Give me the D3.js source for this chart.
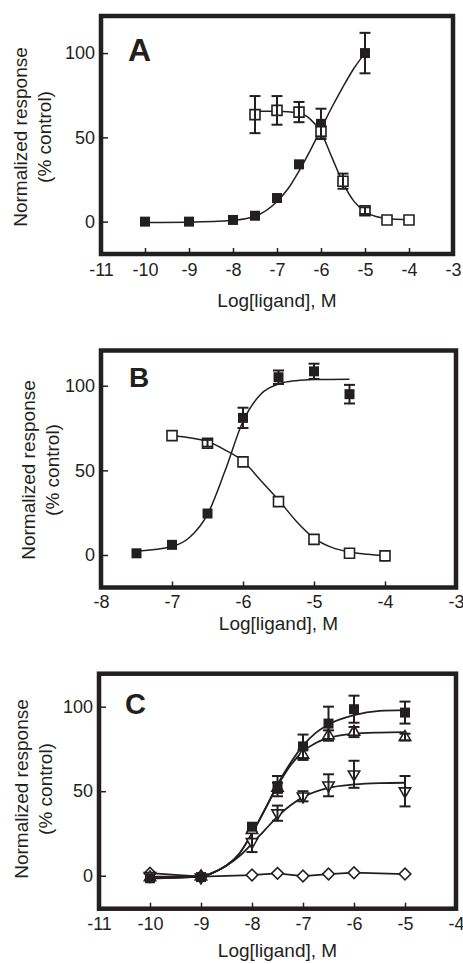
<!DOCTYPE html>
<html>
<head>
<meta charset="utf-8">
<script src="https://cdn.jsdelivr.net/npm/d3@7"></script>
<style>
body { margin: 0; background: #fff; }
text { font-family: "Liberation Sans", Arial, sans-serif; fill: #231f20; }
</style>
</head>
<body>
<div id="chart"></div>
<script>
var w = 463, h = 964;
var INK = "#231f20";

// panel A
var aLog = [-10, -9, -8, -7.5, -7, -6.5, -6, -5];
var aFilled = [0, 0, 1, 3.5, 14, 34, 58, 100];
var aFilledErr = [0, 0, 0, 0, 0, 0, 9, 12];
var aOpenLog = [-7.5, -7, -6.5, -6, -5.5, -5, -4.5, -4];
var aOpen = [63.5, 66, 65, 53.5, 24, 6.5, 1, 1];
var aOpenErr = [11, 8.5, 6, 3, 4.5, 2, 0, 0];
var aFitFilledX = [-10, -9, -8, -7.5, -7, -6.75, -6.5, -6.25, -6, -5.75, -5.5, -5.25, -5];
var aFitFilledY = [-0.5, -0.3, 0.8, 3.2, 12, 19.5, 30, 42, 55, 68, 80, 91, 100];
var aFitOpenX = [-7.5, -7, -6.5, -6.25, -6, -5.75, -5.5, -5.25, -5, -4.75, -4.5, -4];
var aFitOpenY = [65.5, 65.5, 64.5, 61, 53, 38, 23, 12, 6, 3, 1.8, 1];
var aTicks = [-11, -10, -9, -8, -7, -6, -5, -4, -3];

// panel B
var bLog = [-7.5, -7, -6.5, -6, -5.5, -5, -4.5];
var bFilled = [1, 6, 24.5, 81, 105, 108.5, 95];
var bFilledErr = [0, 0, 0, 6, 4, 4.5, 5.5];
var bOpenLog = [-7, -6.5, -6, -5.5, -5, -4.5, -4];
var bOpen = [70.5, 66, 55, 31.5, 9.2, 1, -0.5];
var bOpenErr = [0, 2, 0, 0, 0, 0, 0];
var bFitFilledX = [-7.5, -7, -6.75, -6.5, -6.25, -6, -5.75, -5.5, -5.25, -5, -4.5];
var bFitFilledY = [2.2, 5, 10.5, 24, 50, 79, 95, 101, 103, 103.6, 103.8];
var bFitOpenX = [-7, -6.5, -6.25, -6, -5.75, -5.5, -5.25, -5, -4.75, -4.5, -4.25, -4];
var bFitOpenY = [70.5, 67, 62, 55.5, 44, 32.5, 20, 10, 4.5, 1.8, 0.5, -0.3];
var bTicks = [-8, -7, -6, -5, -4, -3];

// panel C
var cLog = [-10, -9, -8, -7.5, -7, -6.5, -6, -5];
var cFilled = [-1.5, -0.8, 29, 53, 76.5, 90, 98.5, 96.5];
var cFilledErr = [0, 0, 0, 6, 7, 10, 8, 6.5];
var cUp = [-1, -0.5, 27, 52, 71.5, 83, 85, 82];
var cUpErr = [0, 0, 0, 3, 3, 3, 3, 2];
var cDown = [0, -1, 20, 37, 47, 53.5, 60, 50];
var cDownErr = [0, 0, 6, 4.5, 3, 6.5, 8, 9];
var cDiamond = [1.5, -0.5, 0.4, 1.4, -0.2, 1, 1.8, 1];
var cFitFilledX = [-10, -9, -8.75, -8.5, -8.25, -8, -7.75, -7.5, -7.25, -7, -6.75, -6.5, -6, -5.5, -5];
var cFitFilledY = [-1.5, -0.5, 2, 6, 13, 25, 39, 54, 66.5, 77, 84.5, 89.5, 95, 97.5, 98];
var cFitUpX = [-10, -9, -8.75, -8.5, -8.25, -8, -7.75, -7.5, -7.25, -7, -6.75, -6.5, -6, -5.5, -5];
var cFitUpY = [-1.5, -0.5, 2, 6, 13, 25, 39, 53, 65, 73.5, 78.5, 81.5, 84, 84.7, 85];
var cFitDownX = [-10, -9, -8.5, -8.25, -8, -7.75, -7.5, -7.25, -7, -6.5, -6, -5.5, -5];
var cFitDownY = [-0.5, -0.2, 6, 11.5, 19, 27, 35, 41.5, 46.5, 52, 54, 54.8, 55];
var cTicks = [-11, -10, -9, -8, -7, -6, -5, -4];

var yTicks = [0, 50, 100];

function zip(xs, ys, es) {
  return xs.map(function(x, i) { return {x: x, y: ys[i], e: es ? es[i] : 0}; });
}

var panels = [
  { letter: "A", letterX: 128, letterY: 61, letterSize: 32,
    left: 101, right: 453, top: 16, bottom: 254,
    xDomain: [-11, -3], yDomain: [-19.2, 122], ticks: aTicks, xPad: 9,
    titleX: 27, titleY: 137, xTitleY: 307,
    fits: [zip(aFitFilledX, aFitFilledY), zip(aFitOpenX, aFitOpenY)],
    series: [
      {pts: zip(aLog, aFilled, aFilledErr), shape: "square", filled: true},
      {pts: zip(aOpenLog, aOpen, aOpenErr), shape: "square", filled: false}
    ] },
  { letter: "B", letterX: 129, letterY: 387, letterSize: 28,
    left: 101, right: 456, top: 350.5, bottom: 587.5,
    xDomain: [-8, -3], yDomain: [-19.2, 120.8], ticks: bTicks, xPad: 7.7,
    titleX: 35, titleY: 470, xTitleY: 630,
    fits: [zip(bFitFilledX, bFitFilledY), zip(bFitOpenX, bFitOpenY)],
    series: [
      {pts: zip(bLog, bFilled, bFilledErr), shape: "square", filled: true},
      {pts: zip(bOpenLog, bOpen, bOpenErr), shape: "square", filled: false}
    ] },
  { letter: "C", letterX: 125, letterY: 714, letterSize: 29,
    left: 99, right: 456, top: 673.7, bottom: 908.7,
    xDomain: [-11, -4], yDomain: [-19.5, 119.5], ticks: cTicks, xPad: 8.5,
    titleX: 28, titleY: 789, xTitleY: 957,
    fits: [zip(cFitFilledX, cFitFilledY), zip(cFitUpX, cFitUpY), zip(cFitDownX, cFitDownY), zip(cLog, cDiamond)],
    series: [
      {pts: zip(cLog, cDiamond), shape: "diamond", filled: false},
      {pts: zip(cLog, cDown, cDownErr), shape: "down", filled: false},
      {pts: zip(cLog, cUp, cUpErr), shape: "up", filled: false},
      {pts: zip(cLog, cFilled, cFilledErr), shape: "square", filled: true}
    ] }
];

var svg = d3.select("#chart").append("svg")
  .attr("width", w).attr("height", h);

function symbolPath(shape) {
  if (shape == "square") return d3.symbol(d3.symbolSquare, 100)();
  if (shape == "diamond") return d3.symbol(d3.symbolSquare, 68)();
  return d3.symbol(d3.symbolTriangle, 56)();
}
function symbolRot(shape) {
  if (shape == "diamond") return 45;
  if (shape == "down") return 180;
  return 0;
}

panels.forEach(function(p) {
  var x = d3.scaleLinear().domain(p.xDomain).range([p.left, p.right]);
  var y = d3.scaleLinear().domain(p.yDomain).range([p.bottom, p.top]);
  var g = svg.append("g");

  // axes (ticks point inward)
  var xa = g.append("g").attr("transform", "translate(0," + p.bottom + ")")
    .call(d3.axisBottom(x).tickValues(p.ticks).tickSize(-6).tickPadding(p.xPad)
      .tickFormat(d3.format("d")));
  var ya = g.append("g").attr("transform", "translate(" + p.left + ",0)")
    .call(d3.axisLeft(y).tickValues(yTicks).tickSize(-7).tickPadding(6));
  [xa, ya].forEach(function(a) {
    a.select(".domain").remove();
    a.selectAll(".tick line").attr("stroke", INK).attr("stroke-width", 1.5);
    a.selectAll(".tick text").style("font-size", "18px").attr("fill", INK)
      .text(function(d) { return String(d).replace("\u2212", "-"); });
  });

  // fitted curves
  var line = d3.line().x(function(d) { return x(d.x); }).y(function(d) { return y(d.y); });
  p.fits.forEach(function(f, i) {
    var isDiamondLine = (p.letter == "C" && i == 3);
    g.append("path").datum(f)
      .attr("d", line.curve(isDiamondLine ? d3.curveLinear : d3.curveMonotoneX))
      .attr("fill", "none").attr("stroke", INK)
      .attr("stroke-width", p.letter == "C" ? 1.8 : 1.5);
  });

  // markers and error bars
  p.series.forEach(function(s) {
    var sg = g.append("g");
    sg.selectAll("path.mk").data(s.pts).enter().append("path")
      .attr("class", "mk")
      .attr("d", symbolPath(s.shape))
      .attr("transform", function(d) {
        return "translate(" + x(d.x) + "," + y(d.y) + ") rotate(" + symbolRot(s.shape) + ")";
      })
      .attr("fill", s.filled ? INK : "#fff")
      .attr("stroke", INK)
      .attr("stroke-width", s.filled ? 0 : 1.6);
    var eb = sg.selectAll("g.eb").data(s.pts.filter(function(d) { return d.e > 0; }))
      .enter().append("g").attr("class", "eb")
      .attr("stroke", INK).attr("stroke-width", 2);
    eb.append("line")
      .attr("x1", function(d) { return x(d.x); }).attr("x2", function(d) { return x(d.x); })
      .attr("y1", function(d) { return y(d.y + d.e); }).attr("y2", function(d) { return y(d.y - d.e); });
    [1, -1].forEach(function(sgn) {
      eb.append("line")
        .attr("x1", function(d) { return x(d.x) - 5.5; }).attr("x2", function(d) { return x(d.x) + 5.5; })
        .attr("y1", function(d) { return y(d.y + sgn * d.e); }).attr("y2", function(d) { return y(d.y + sgn * d.e); });
    });
  });

  // frame
  g.append("rect")
    .attr("x", p.left).attr("y", p.top)
    .attr("width", p.right - p.left).attr("height", p.bottom - p.top)
    .attr("fill", "none").attr("stroke", INK).attr("stroke-width", 4.5);

  // panel letter
  g.append("text").attr("x", p.letterX).attr("y", p.letterY)
    .style("font-size", p.letterSize + "px").style("font-weight", "bold")
    .text(p.letter);

  // axis titles
  g.append("text").attr("x", (p.left + p.right) / 2).attr("y", p.xTitleY)
    .attr("text-anchor", "middle").style("font-size", "19px")
    .text("Log[ligand], M");
  var yt = g.append("text")
    .attr("transform", "translate(" + p.titleX + "," + p.titleY + ") rotate(-90)")
    .attr("text-anchor", "middle").style("font-size", "19px");
  yt.append("tspan").attr("x", 0).attr("y", 0).text("Normalized response");
  yt.append("tspan").attr("x", 0).attr("y", 24).text("(% control)");
});
</script>
</body>
</html>
